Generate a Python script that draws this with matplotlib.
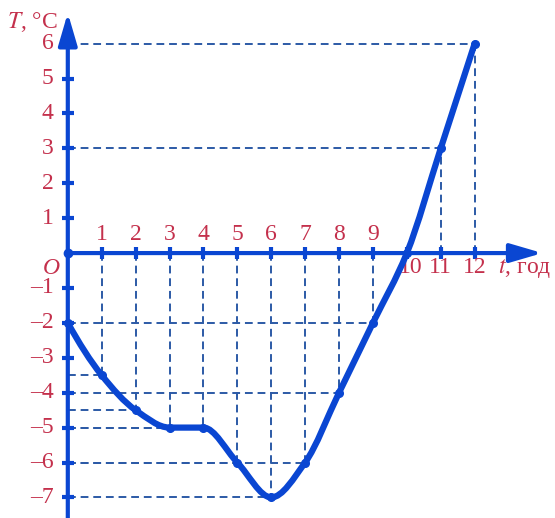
import numpy as np
import matplotlib.pyplot as plt
from matplotlib.path import Path
from matplotlib.patches import PathPatch

# temperature over time
hours = [0, 1, 2, 3, 4, 5, 6, 7, 8, 9, 10, 11, 12]
temps = [-2, -3.5, -4.5, -5, -5, -6, -7, -6, -4, -2, 0, 3, 6]
y_ticks = [-7, -6, -5, -4, -3, -2, -1, 1, 2, 3, 4, 5, 6]
x_ticks = [1, 2, 3, 4, 5, 6, 7, 8, 9, 10, 11, 12]

blue = '#0a46d2'
dash_col = '#2c5aa6'
red = '#c4304c'

plt.rcParams['font.family'] = ['Liberation Serif', 'DejaVu Serif']

fig = plt.figure(figsize=(5.55, 5.18), dpi=100)
ax = fig.add_axes([0, 0, 1, 1])
ax.set_xlim(-2.0, 14.37)
ax.set_ylim(-7.59, 7.25)
ax.axis('off')

x = np.array(hours, float)
y = np.array(temps, float)

# guide lines from the points to both axes
for xi, yi in zip(x, y):
    if xi == 0 or yi == 0:
        continue
    ax.plot([0, xi], [yi, yi], color=dash_col, lw=1.4, ls=(0, (4, 2.5)), zorder=1)
    ax.plot([xi, xi], [0, yi], color=dash_col, lw=1.4, ls=(0, (4, 2.5)), zorder=1)

# axes with arrows
arrow = dict(arrowstyle='-|>,head_length=0.65,head_width=0.19', lw=3, color=blue,
             mutation_scale=30, shrinkA=0, shrinkB=0)
ax.annotate('', xy=(0, 6.88), xytext=(0, -7.59), arrowprops=arrow, zorder=3)
ax.annotate('', xy=(14.0, 0), xytext=(0, 0), arrowprops=arrow, zorder=3)
ax.plot(np.zeros(len(y_ticks)), y_ticks, ls='none', marker='_', ms=8, mew=3, color=blue, zorder=3)
ax.plot(x_ticks, np.zeros(len(x_ticks)), ls='none', marker='|', ms=8, mew=3, color=blue, zorder=3)

# smooth monotone curve through the points
d = np.diff(y) / np.diff(x)
m = np.zeros_like(y)
m[0] = 1.5 * d[0] - 0.5 * d[1]
m[-1] = 1.5 * d[-1] - 0.5 * d[-2]
for k in range(1, len(y) - 1):
    if d[k - 1] * d[k] > 0:
        m[k] = 2 / (1 / d[k - 1] + 1 / d[k])
verts = [(x[0], y[0])]
codes = [Path.MOVETO]
for k in range(len(x) - 1):
    h = x[k + 1] - x[k]
    verts += [(x[k] + h / 3, y[k] + m[k] * h / 3),
              (x[k + 1] - h / 3, y[k + 1] - m[k + 1] * h / 3),
              (x[k + 1], y[k + 1])]
    codes += [Path.CURVE4] * 3
ax.add_patch(PathPatch(Path(verts, codes), fill=False, ec=blue, lw=4.5,
                       capstyle='round', joinstyle='round', zorder=4))
ax.plot(x, y, ls='none', marker='o', ms=5.5, color=blue, zorder=5)
ax.plot([0], [0], marker='o', ms=6, color=blue, zorder=5)

fs = 17
for t in y_ticks:
    lab = str(t).replace('-', '\u2013')
    ax.text(-0.42, t, lab, color=red, fontsize=fs, ha='right', va='center')
for t in x_ticks:
    if t <= 9:
        ax.text(t, 0.22, str(t), color=red, fontsize=fs, ha='center', va='bottom')
    else:
        ax.text(t + (0.12 if t == 10 else 0), -0.1, str(t), color=red, fontsize=fs,
                ha='center', va='top')
ax.text(-0.25, -0.15, 'O', color=red, fontsize=fs, ha='right', va='top', style='italic')
ax.text(12.7, -0.1, r'$t$' + ', год', color=red, fontsize=fs, ha='left', va='top',
        math_fontfamily='stix')
ax.text(-1.78, 6.45, r'$T$' + ', °C', color=red, fontsize=fs, ha='left', va='baseline',
        math_fontfamily='stix')

fig.savefig('out.png', dpi=100)
